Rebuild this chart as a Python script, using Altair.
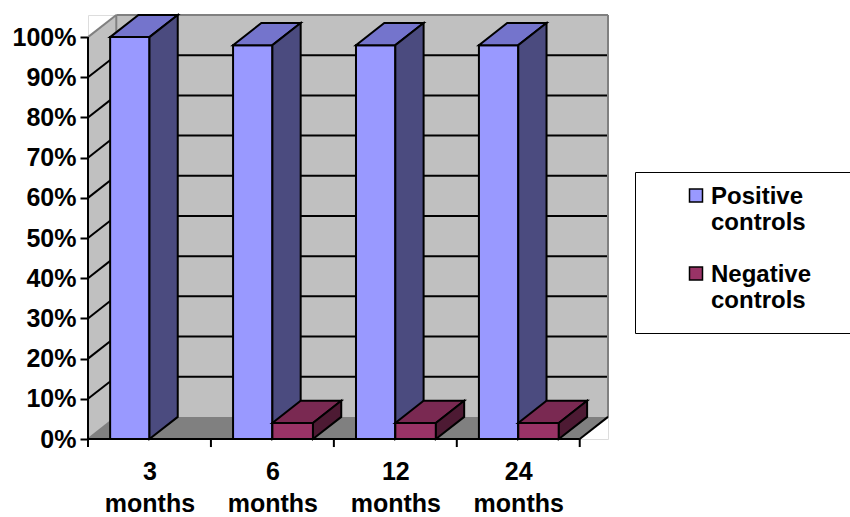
import json
import altair as alt
import pandas as pd

# ---------------- data ----------------
CATEGORIES = ["3 months", "6 months", "12 months", "24 months"]
SERIES = ["Positive controls", "Negative controls"]
POSITIVE = [100, 98, 98, 98]
NEGATIVE = [None, 4, 4, 4]
Y_TICKS = [0, 10, 20, 30, 40, 50, 60, 70, 80, 90, 100]

# ---------------- styling / layout constants ----------------
FRONT = {"Positive controls": "#9999FF", "Negative controls": "#993366"}
TOP = {"Positive controls": "#7474CC", "Negative controls": "#7A2952"}
SIDE = {"Positive controls": "#4B4B7F", "Negative controls": "#4D1A33"}
SLOT = {"Positive controls": (0.18, 0.50), "Negative controls": (0.50, 0.83)}
WALL = "#C0C0C0"
FLOOR = "#808080"
EDGE = "#808080"
DX = 0.23      # 3-D depth offset, category units
DY = 5.5       # 3-D depth offset, percent units
YMAX = 100
N = len(CATEGORIES)
FONT = "Liberation Sans"

# ---------------- build geometry tables ----------------
walls = []
def add_poly(rows, pid, pts, fill):
    for k, (x, ya, yb) in enumerate(pts):
        rows.append({"pid": pid, "x": x, "ya": ya, "yb": yb, "fill": fill})

add_poly(walls, "a_left", [(0, 0, YMAX), (DX, DY, YMAX + DY)], WALL)
add_poly(walls, "b_back", [(DX, DY, YMAX + DY), (N + DX, DY, YMAX + DY)], WALL)
add_poly(walls, "c_floor", [(0, 0, 0), (DX, 0, DY), (N, 0, DY), (N + DX, DY, DY)], FLOOR)

bars = []
series_vals = {"Positive controls": POSITIVE, "Negative controls": NEGATIVE}
for c in range(N):
    for s_i, s in enumerate(SERIES):
        v = series_vals[s][c]
        if v is None:
            continue
        x0, x1 = c + SLOT[s][0], c + SLOT[s][1]
        base = f"{c:02d}_{s_i}"
        add_poly(bars, base + "_0front", [(x0, 0, v), (x1, 0, v)], FRONT[s])
        add_poly(bars, base + "_1top", [(x0, v, v), (x0 + DX, v, v + DY),
                                          (x1, v, v + DY), (x1 + DX, v + DY, v + DY)], TOP[s])
        add_poly(bars, base + "_2side", [(x1, 0, v), (x1 + DX, DY, v + DY)], SIDE[s])

lines = []
for v in Y_TICKS[1:-1]:
    lines.append({"x": DX, "x2": N + DX, "y": v + DY, "y2": v + DY, "col": "black"})
    lines.append({"x": 0, "x2": DX, "y": v, "y2": v + DY, "col": "black"})
lines += [
    {"x": DX, "x2": N + DX, "y": YMAX + DY, "y2": YMAX + DY, "col": EDGE},
    {"x": N + DX, "x2": N + DX, "y": DY, "y2": YMAX + DY, "col": EDGE},
    {"x": 0, "x2": DX, "y": YMAX, "y2": YMAX + DY, "col": EDGE},
    {"x": DX, "x2": DX, "y": DY, "y2": YMAX + DY, "col": EDGE},
    {"x": 0, "x2": DX, "y": 0, "y2": DY, "col": EDGE},
    {"x": 0, "x2": 0, "y": 0, "y2": YMAX, "col": "black"},
    {"x": 0, "x2": N, "y": 0, "y2": 0, "col": "black"},
    {"x": N, "x2": N + DX, "y": 0, "y2": DY, "col": "black"},
]
for c in range(N + 1):
    lines.append({"x": c, "x2": c, "y": 0, "y2": -2, "col": "black"})

walls_df = pd.DataFrame(walls)
bars_df = pd.DataFrame(bars)
lines_df = pd.DataFrame(lines)
legend_df = pd.DataFrame({"series": SERIES, "x": [0, 0], "y": [0, 0]})

# ---------------- scales & axes ----------------
xscale = alt.Scale(domain=[0, N + DX], nice=False, zero=False)
yscale = alt.Scale(domain=[0, YMAX + DY], nice=False, zero=False)

label_expr = "split(" + json.dumps(CATEGORIES) + "[floor(datum.value)], ' ')"
xaxis = alt.Axis(values=[i + 0.5 for i in range(N)], ticks=False, domain=False, grid=False,
                 labelExpr=label_expr, labelFont=FONT, labelFontSize=25,
                 labelFontWeight="bold", labelColor="black", labelLineHeight=32,
                 labelBaseline="top", labelPadding=20, title=None, labelAngle=0)
yaxis = alt.Axis(values=Y_TICKS, labelExpr="datum.value + '%'", domain=False, grid=False,
                 ticks=True, tickSize=8, tickWidth=2, tickColor="black",
                 labelFont=FONT, labelFontSize=25, labelFontWeight="bold",
                 labelColor="black", labelPadding=4, title=None)

def X(f):
    return alt.X(f, scale=xscale, axis=xaxis)

def Y(f):
    return alt.Y(f, scale=yscale, axis=yaxis, stack=None)

walls_layer = alt.Chart(walls_df).mark_area(strokeWidth=0, interpolate="linear").encode(
    x=X("x:Q"), y=Y("ya:Q"), y2="yb:Q",
    fill=alt.Fill("fill:N", scale=None), detail="pid:N")

lines_layer = alt.Chart(lines_df).mark_rule(strokeWidth=2).encode(
    x=X("x:Q"), x2="x2:Q", y=Y("y:Q"), y2="y2:Q",
    stroke=alt.Stroke("col:N", scale=None))

bars_layer = alt.Chart(bars_df).mark_area(stroke="black", strokeWidth=2,
                                           strokeJoin="miter", interpolate="linear").encode(
    x=X("x:Q"), y=Y("ya:Q"), y2="yb:Q",
    fill=alt.Fill("fill:N", scale=None), detail="pid:N")

base_legend = dict(
    orient="none", legendX=547, legendY=157,
    padding=20, strokeColor="black", fillColor="white",
    symbolType="M-1,-2.3L1,-2.3L1,-0.3L-1,-0.3Z", symbolSize=169,
    symbolOpacity=1, symbolStrokeColor="black", symbolStrokeWidth=1.5,
    symbolOffset=29, labelOffset=3,
    labelFont=FONT, labelFontSize=24, labelFontWeight="bold", labelColor="black",
    labelBaseline="alphabetic", labelExpr="split(datum.label, ' ')", rowPadding=28,
    title="\u2800", titleOrient="right", titleFontSize=10, titlePadding=70,
    titleColor="white",
)

def make_legend_layer(kw):
    return alt.Chart(legend_df).mark_square(opacity=0).encode(
        x=X("x:Q"), y=Y("y:Q"),
        color=alt.Color("series:N", scale=alt.Scale(domain=SERIES, range=[FRONT[s] for s in SERIES]),
                        legend=alt.Legend(**kw)))

def build(kw):
    ch = alt.layer(walls_layer, lines_layer, bars_layer, make_legend_layer(kw)).properties(
        width=520, height=424,
        padding={"left": 88, "top": 15, "right": 242, "bottom": 78},
        autosize=alt.AutoSizeParams(type="none"),
    ).configure_view(stroke=None).configure(background="white")
    ch.to_dict()
    return ch

chart = None
for extra in (dict(strokeWidth=2), {}):
    try:
        chart = build(dict(base_legend, **extra))
        break
    except Exception:
        continue

chart.save("out.html", embed_options={"renderer": "svg", "actions": False})
